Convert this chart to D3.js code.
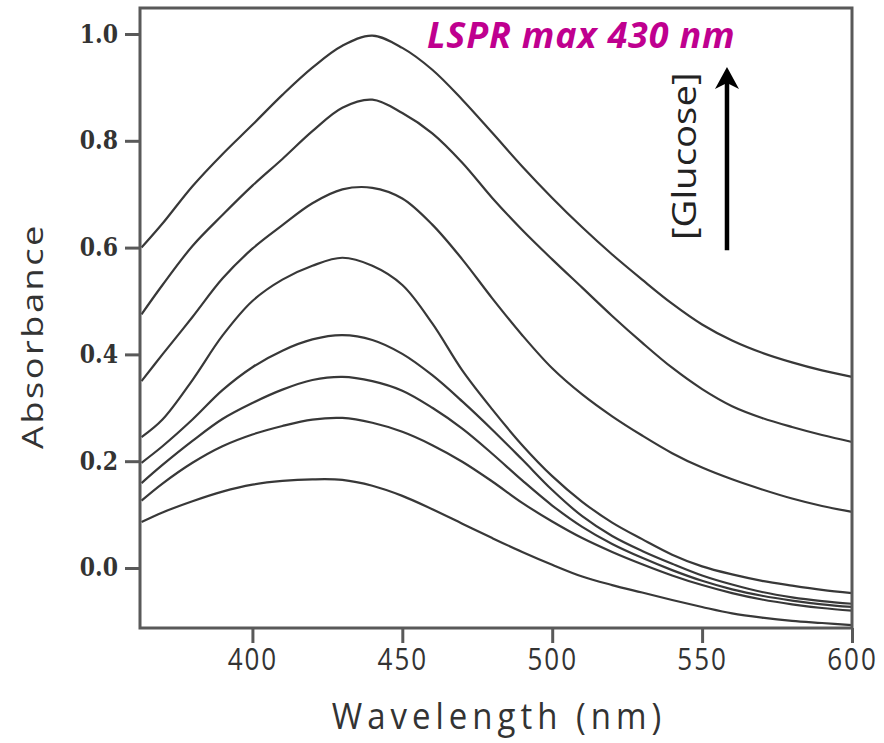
<!DOCTYPE html>
<html>
<head>
<meta charset="utf-8">
<script src="https://cdn.jsdelivr.net/npm/d3@7"></script>
<style>
  html, body { margin: 0; padding: 0; background: #ffffff; }
  svg { display: block; }
</style>
</head>
<body>
<svg id="chart" width="884" height="743"></svg>
<script>
// Wavelength grid (nm) shared by all spectra
const wavelengths = [363, 370, 380, 390, 400, 410, 420, 430, 440, 450, 460, 470, 480,
                     490, 500, 510, 520, 530, 540, 550, 560, 570, 580, 590, 600];

// Absorbance spectra, highest glucose concentration first
const spectrum1 = [0.600, 0.645, 0.715, 0.775, 0.830, 0.886, 0.937, 0.978, 0.997, 0.974, 0.933, 0.877, 0.815,
                   0.752, 0.693, 0.638, 0.587, 0.540, 0.495, 0.456, 0.426, 0.403, 0.385, 0.370, 0.358];
const spectrum2 = [0.475, 0.530, 0.603, 0.661, 0.716, 0.766, 0.818, 0.862, 0.877, 0.852, 0.814, 0.759, 0.693,
                   0.633, 0.578, 0.525, 0.472, 0.422, 0.375, 0.335, 0.303, 0.281, 0.264, 0.249, 0.236];
const spectrum3 = [0.350, 0.400, 0.470, 0.542, 0.598, 0.642, 0.683, 0.709, 0.712, 0.692, 0.643, 0.578, 0.505,
                   0.436, 0.374, 0.325, 0.284, 0.248, 0.215, 0.188, 0.166, 0.147, 0.130, 0.116, 0.105];
const spectrum4 = [0.245, 0.278, 0.352, 0.435, 0.500, 0.540, 0.566, 0.581, 0.566, 0.530, 0.458, 0.370, 0.297,
                   0.230, 0.172, 0.124, 0.085, 0.054, 0.025, 0.003, -0.012, -0.024, -0.033, -0.041, -0.047];
const spectrum5 = [0.197, 0.228, 0.278, 0.333, 0.376, 0.407, 0.428, 0.436, 0.427, 0.401, 0.361, 0.312, 0.259,
                   0.203, 0.146, 0.097, 0.060, 0.032, 0.008, -0.014, -0.031, -0.045, -0.055, -0.062, -0.067];
const spectrum6 = [0.159, 0.193, 0.238, 0.279, 0.309, 0.334, 0.352, 0.358, 0.350, 0.332, 0.300, 0.261, 0.214,
                   0.164, 0.117, 0.077, 0.045, 0.019, -0.004, -0.024, -0.040, -0.052, -0.061, -0.068, -0.073];
const spectrum7 = [0.126, 0.158, 0.197, 0.228, 0.250, 0.266, 0.278, 0.281, 0.272, 0.255, 0.230, 0.199, 0.162,
                   0.122, 0.087, 0.056, 0.030, 0.007, -0.014, -0.032, -0.047, -0.059, -0.068, -0.075, -0.080];
const spectrum8 = [0.086, 0.104, 0.125, 0.143, 0.156, 0.163, 0.166, 0.165, 0.154, 0.135, 0.110, 0.083, 0.056,
                   0.030, 0.006, -0.016, -0.032, -0.046, -0.060, -0.073, -0.085, -0.093, -0.099, -0.103, -0.107];

const spectra = [spectrum1, spectrum2, spectrum3, spectrum4, spectrum5, spectrum6, spectrum7, spectrum8];

// Axis ticks
const xTicks = [400, 450, 500, 550, 600];
const yTicks = [0.0, 0.2, 0.4, 0.6, 0.8, 1.0];

// Annotation anchors in data units
const peakLabel = { text: "LSPR max 430 nm", wl: 458.2, abs: 0.973 };
const arrowAnchor = { wl: 558.3, from: 0.595, to: 0.938 };
const arrowLabel = { text: "[Glucose]", wl: 548.0, abs: 0.771 };

const svg = d3.select("#chart");
const plotLeft = 140, plotRight = 852, plotTop = 8, plotBottom = 628;
const stretch = 1.2; // text is drawn slightly taller than wide

const x = d3.scaleLinear().domain([362.5, 600]).range([plotLeft, plotRight]);
const y = d3.scaleLinear().domain([-0.1124, 1.0487]).range([plotBottom, plotTop]);

// Spectra
const line = d3.line()
  .x((d, i) => x(wavelengths[i]))
  .y(d => y(d))
  .curve(d3.curveCatmullRom.alpha(0.5));

svg.append("g")
  .attr("fill", "none")
  .attr("stroke", "#383838")
  .attr("stroke-width", 2.2)
  .attr("stroke-linejoin", "round")
  .selectAll("path")
  .data(spectra)
  .join("path")
  .attr("d", line);

// Frame
svg.append("rect")
  .attr("x", plotLeft).attr("y", plotTop)
  .attr("width", plotRight - plotLeft).attr("height", plotBottom - plotTop)
  .attr("fill", "none")
  .attr("stroke", "#595959")
  .attr("stroke-width", 3);

// X axis
const xAxis = svg.append("g")
  .attr("transform", `translate(0,${plotBottom})`)
  .call(d3.axisBottom(x).tickValues(xTicks).tickSize(15).tickFormat(d3.format("d")));
xAxis.select(".domain").remove();
xAxis.selectAll(".tick line").attr("stroke", "#595959").attr("stroke-width", 3);
xAxis.selectAll(".tick text")
  .attr("y", 0).attr("dy", null)
  .attr("transform", `translate(0,42) scale(1,${stretch})`)
  .attr("fill", "#333")
  .style("font-family", "'Open Sans', sans-serif")
  .style("font-size", "26px")
  .style("letter-spacing", "2px");

// Y axis
const yAxis = svg.append("g")
  .attr("transform", `translate(${plotLeft},0)`)
  .call(d3.axisLeft(y).tickValues(yTicks).tickSize(15).tickFormat(d3.format(".1f")));
yAxis.select(".domain").remove();
yAxis.selectAll(".tick line").attr("stroke", "#595959").attr("stroke-width", 3);
yAxis.selectAll(".tick text")
  .attr("x", 0).attr("dy", null)
  .attr("transform", `translate(-22,8) scale(1,${stretch})`)
  .attr("fill", "#333")
  .style("font-family", "'DejaVu Serif', serif")
  .style("font-weight", "bold")
  .style("font-size", "22px");

// Axis titles
svg.append("text")
  .attr("transform", `translate(${(plotLeft + plotRight) / 2 + 3},729) scale(1,1.1)`)
  .attr("text-anchor", "middle")
  .attr("fill", "#333")
  .style("font-family", "'Open Sans', sans-serif")
  .style("font-size", "33px")
  .style("letter-spacing", "5px")
  .text("Wavelength (nm)");

svg.append("text")
  .attr("transform", `translate(43,336) scale(1,${stretch * 1.04}) rotate(-90)`)
  .attr("text-anchor", "middle")
  .attr("fill", "#333")
  .style("font-family", "'Open Sans', sans-serif")
  .style("font-size", "29px")
  .style("letter-spacing", "2px")
  .text("Absorbance");

// Peak annotation
svg.append("text")
  .attr("transform", `translate(${x(peakLabel.wl)},${y(peakLabel.abs)})`)
  .attr("fill", "#bf008f")
  .style("font-family", "'Open Sans', sans-serif")
  .style("font-weight", "bold")
  .style("font-style", "italic")
  .style("font-size", "36px")
  .style("letter-spacing", "0.8px")
  .text(peakLabel.text);

// Concentration arrow
const ax = x(arrowAnchor.wl);
const yTail = y(arrowAnchor.from), yTip = y(arrowAnchor.to);
svg.append("line")
  .attr("x1", ax).attr("x2", ax)
  .attr("y1", yTail).attr("y2", yTip + 14)
  .attr("stroke", "#000")
  .attr("stroke-width", 4.5);
svg.append("path")
  .attr("d", d3.line()([[ax, yTip], [ax + 12, yTip + 22], [ax, yTip + 16], [ax - 12, yTip + 22]]) + "Z")
  .attr("fill", "#000");

svg.append("text")
  .attr("transform", `translate(${x(arrowLabel.wl)},${y(arrowLabel.abs)}) scale(1,${stretch}) rotate(-90)`)
  .attr("text-anchor", "middle")
  .attr("fill", "#222")
  .style("font-family", "'Open Sans', sans-serif")
  .style("font-size", "32px")
  .text(arrowLabel.text);
</script>
</body>
</html>
